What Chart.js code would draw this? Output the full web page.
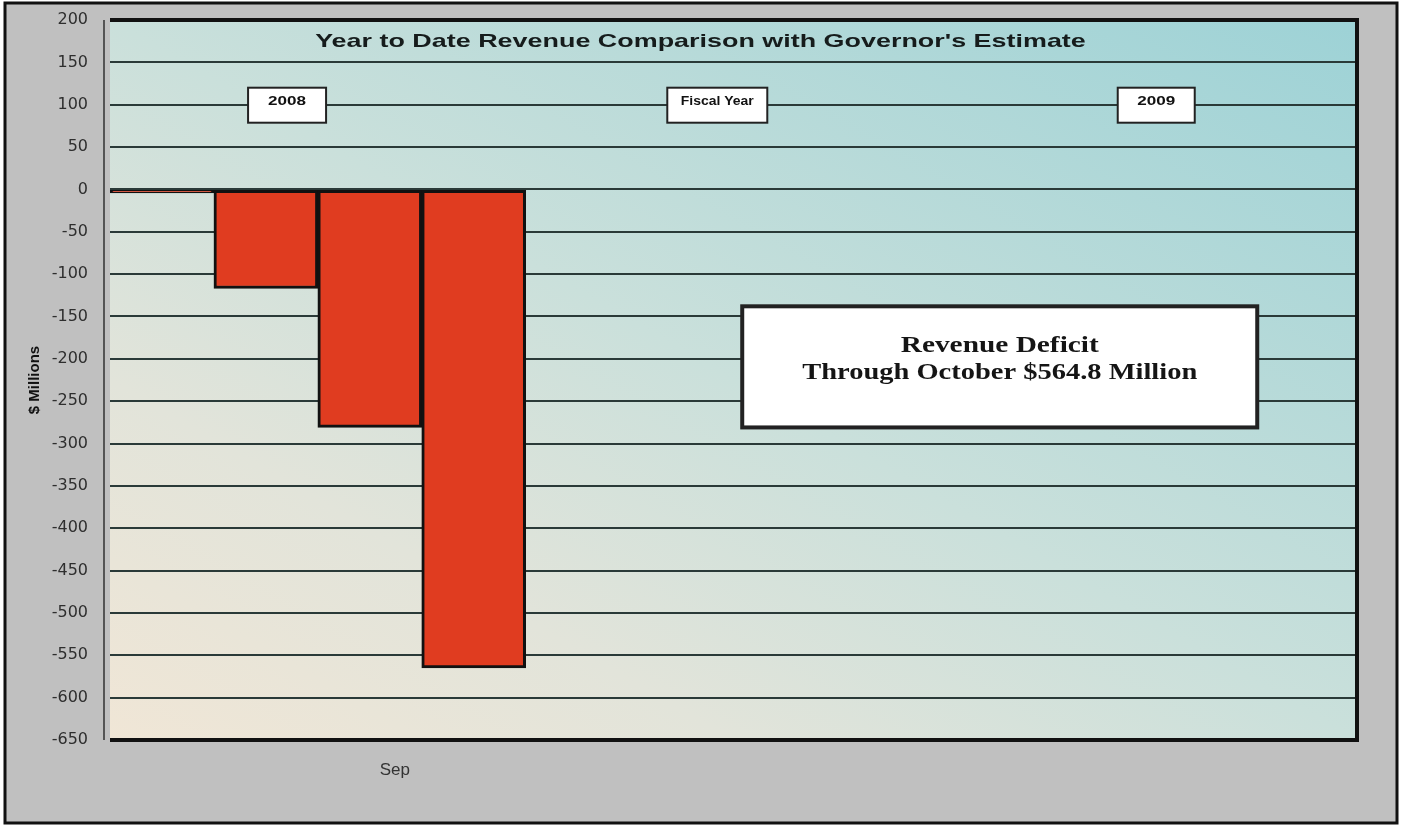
<!DOCTYPE html>
<html>
<head>
<meta charset="utf-8">
<script src="https://cdn.jsdelivr.net/npm/chart.js@4"></script>
<style>
  html, body { margin: 0; padding: 0; background: #fff; }
  #wrap { width: 1402px; height: 827px; }
</style>
</head>
<body>
<div id="wrap"><canvas id="revenueChart" width="1402" height="827"></canvas></div>
<script>
// fiscal year months, July through June
var months = ["Jul", "Aug", "Sep", "Oct", "Nov", "Dec", "Jan", "Feb", "Mar", "Apr", "May", "Jun"];
// year to date difference from the estimate, $ millions
var ytdDiff = [-4, -117, -281, -564.8, null, null, null, null, null, null, null, null];
var yMin = -650;
var yMax = 200;
var yStep = 50;

// gray frame behind everything
var framePlugin = {
    id: "frame",
    beforeDraw: function (chart) {
        var ctx = chart.ctx;
        ctx.save();
        ctx.fillStyle = "#ffffff";
        ctx.fillRect(0, 0, chart.width, chart.height);
        ctx.fillStyle = "#c0c0c0";
        ctx.fillRect(5, 3, chart.width - 10, chart.height - 7);
        ctx.strokeStyle = "#111";
        ctx.lineWidth = 3;
        ctx.strokeRect(5, 3, chart.width - 10, chart.height - 7);

        // plot area gradient, beige in the lower left corner to teal in the upper right,
        // with bands running parallel to the other diagonal
        var a = chart.chartArea;
        var w = a.right - a.left, h = a.bottom - a.top;
        var k = 2 * w * h / (w * w + h * h);
        var g = ctx.createLinearGradient(a.left, a.bottom, a.left + h * k, a.bottom - w * k);
        g.addColorStop(0, "#f0e6d6");
        g.addColorStop(0.25, "#e2e4da");
        g.addColorStop(0.5, "#cae0db");
        g.addColorStop(1, "#9dd2d6");
        ctx.fillStyle = g;
        ctx.fillRect(a.left, a.top, w, h);
        ctx.restore();
    }
};

// text drawn wide, squeezed or stretched to a set width
function wideText(ctx, text, cx, cy, font, width) {
    ctx.save();
    ctx.font = font;
    ctx.textAlign = "center";
    ctx.textBaseline = "middle";
    var sx = width / ctx.measureText(text).width;
    ctx.translate(cx, cy);
    ctx.scale(sx, 1);
    ctx.fillText(text, 0, 0);
    ctx.restore();
}

function box(ctx, l, t, w, h, lw) {
    ctx.fillStyle = "#ffffff";
    ctx.fillRect(l, t, w, h);
    ctx.strokeStyle = "#222";
    ctx.lineWidth = lw;
    ctx.strokeRect(l, t, w, h);
}

// title, year labels, the deficit note and the plot border
var notesPlugin = {
    id: "notes",
    afterDraw: function (chart) {
        var ctx = chart.ctx;
        var a = chart.chartArea;
        var y = chart.scales.y;
        var w = a.right - a.left;
        ctx.save();

        ctx.fillStyle = "#161c1c";
        wideText(ctx, "Year to Date Revenue Comparison with Governor's Estimate",
            a.left + w * 0.4735, y.getPixelForValue(174),
            "bold 19px 'Liberation Sans', Arial, sans-serif", w * 0.618);

        var yLab = y.getPixelForValue(100);
        var small = "bold 12px 'Liberation Sans', Arial, sans-serif";
        var tags = [["2008", 0.142, 78, 38], ["Fiscal Year", 0.487, 100, 73], ["2009", 0.839, 77, 38]];
        tags.forEach(function (t) {
            var cx = a.left + w * t[1];
            box(ctx, cx - t[2] / 2, yLab - 17, t[2], 35, 2);
            ctx.fillStyle = "#111";
            wideText(ctx, t[0], cx, yLab - 3, small, t[3]);
        });

        var top = y.getPixelForValue(-138);
        var bot = y.getPixelForValue(-281);
        var l = a.left + w * 0.507;
        var r = a.left + w * 0.92;
        box(ctx, l, top, r - l, bot - top, 4);
        ctx.fillStyle = "#151515";
        var serif = "bold 24px 'Liberation Serif', 'Times New Roman', serif";
        wideText(ctx, "Revenue Deficit", (l + r) / 2, y.getPixelForValue(-185), serif, 198);
        wideText(ctx, "Through October $564.8 Million", (l + r) / 2, y.getPixelForValue(-216), serif, 395);

        // plot border: heavy on top, right and bottom
        ctx.strokeStyle = "#111";
        ctx.lineWidth = 4;
        ctx.beginPath();
        ctx.moveTo(a.left, a.top);
        ctx.lineTo(a.right, a.top);
        ctx.lineTo(a.right, a.bottom);
        ctx.lineTo(a.left, a.bottom);
        ctx.stroke();
        ctx.strokeStyle = "#555";
        ctx.lineWidth = 2;
        ctx.beginPath();
        ctx.moveTo(a.left - 6, a.top);
        ctx.lineTo(a.left - 6, a.bottom);
        ctx.stroke();
        ctx.restore();
    }
};

new Chart(document.getElementById("revenueChart"), {
    type: "bar",
    data: {
        labels: months,
        datasets: [{
            data: ytdDiff,
            backgroundColor: "#e03c20",
            borderColor: "#111111",
            borderWidth: 3,
            borderSkipped: false,
            categoryPercentage: 1,
            barPercentage: 1
        }]
    },
    options: {
        responsive: false,
        animation: false,
        layout: { padding: { left: 26, right: 45, top: 20, bottom: 27 } },
        plugins: {
            legend: { display: false },
            tooltip: { enabled: false },
            title: { display: false }
        },
        scales: {
            x: {
                grid: { display: false, drawTicks: false },
                border: { display: false },
                ticks: {
                    color: "#333",
                    font: { family: "'Liberation Sans', Arial, sans-serif", size: 17 },
                    padding: 20,
                    labelOffset: 25,
                    maxRotation: 0,
                    autoSkip: false,
                    callback: function (v, i) { return months[i] === "Sep" ? "Sep" : ""; }
                },
                afterFit: function (s) { s.height = 60; }
            },
            y: {
                min: yMin,
                max: yMax,
                grid: { color: "#2a3a38", lineWidth: 2, drawTicks: false },
                border: { display: false },
                ticks: {
                    stepSize: yStep,
                    color: "#2e2e2e",
                    padding: 22,
                    font: { family: "'DejaVu Sans', Arial, sans-serif", size: 16 }
                },
                title: {
                    display: true,
                    text: "$ Millions",
                    color: "#111",
                    padding: { top: 0, bottom: 0 },
                    font: { family: "'Liberation Sans', Arial, sans-serif", size: 15, weight: "bold" }
                },
                afterFit: function (s) {
                    s.width = 84;
                    s.paddingTop = 0;
                    s.paddingBottom = 0;
                }
            }
        }
    },
    plugins: [framePlugin, notesPlugin]
});
</script>
</body>
</html>
